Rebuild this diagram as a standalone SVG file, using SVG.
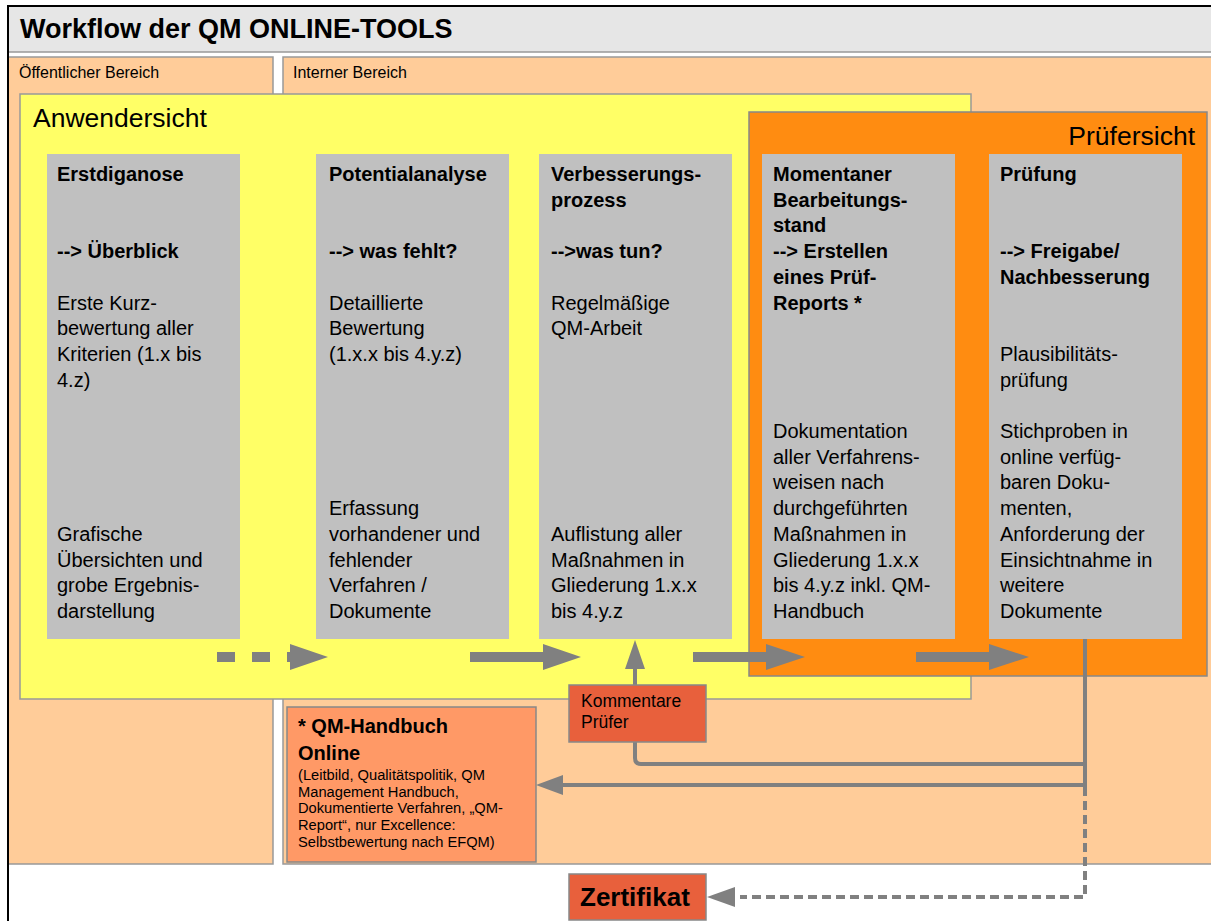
<svg xmlns="http://www.w3.org/2000/svg" width="1211" height="921" viewBox="0 0 1211 921">
<style>
text{font-family:"Liberation Sans",Arial,sans-serif;fill:#000}
.b{font-weight:bold}
.t20{font-size:20px}
.col{fill:#c0c0c0}
.panel{fill:#ffcc99;stroke:#999;stroke-width:1.5}
.ln{fill:none;stroke:#808080;stroke-width:4}
.big{fill:none;stroke:#808080;stroke-width:10}
.ah{fill:#808080}
.red{fill:#e8603c;stroke:#888;stroke-width:1.5}
</style>
<rect x="0" y="0" width="1211" height="921" fill="#fff"/>
<g id="frame">
<rect x="8" y="6" width="1210" height="46" fill="#e6e6e6" stroke="#999" stroke-width="1.5"/>
<text x="20" y="38" class="b" font-size="27">Workflow der QM ONLINE-TOOLS</text>
</g>
<g id="oeffentlich">
<rect x="8" y="57" width="265" height="807" class="panel"/>
<text x="19" y="78" font-size="16">Öffentlicher Bereich</text>
</g>
<g id="intern">
<rect x="283" y="57" width="935" height="807" class="panel"/>
<text x="293" y="78" font-size="16">Interner Bereich</text>
</g>
<g id="anwendersicht">
<rect x="20" y="94" width="951" height="605" fill="#ffff66" stroke="#999" stroke-width="1.5"/>
<text x="33" y="127" font-size="26.5">Anwendersicht</text>
</g>
<g id="pruefersicht">
<rect x="749" y="112" width="458" height="564" fill="#ff8c11" stroke="#888" stroke-width="1.5"/>
<text x="1195" y="145" font-size="26.5" text-anchor="end">Prüfersicht</text>
</g>
<g id="erstdiagnose">
<rect x="47" y="154" width="193" height="485" class="col"/>
<text class="t20"><tspan class="b" x="57" y="181">Erstdiganose</tspan><tspan class="b" x="57" y="258.1">--&gt; Überblick</tspan><tspan x="57" y="309.5">Erste Kurz-</tspan><tspan x="57" y="335.2">bewertung aller</tspan><tspan x="57" y="360.9">Kriterien (1.x bis</tspan><tspan x="57" y="386.6">4.z)</tspan><tspan x="57" y="540.8">Grafische</tspan><tspan x="57" y="566.5">Übersichten und</tspan><tspan x="57" y="592.2">grobe Ergebnis-</tspan><tspan x="57" y="617.9">darstellung</tspan></text>
</g>
<g id="potentialanalyse">
<rect x="316" y="154" width="193" height="485" class="col"/>
<text class="t20"><tspan class="b" x="329" y="181">Potentialanalyse</tspan><tspan class="b" x="329" y="258.1">--&gt; was fehlt?</tspan><tspan x="329" y="309.5">Detaillierte</tspan><tspan x="329" y="335.2">Bewertung</tspan><tspan x="329" y="360.9">(1.x.x bis 4.y.z)</tspan><tspan x="329" y="515.1">Erfassung</tspan><tspan x="329" y="540.8">vorhandener und</tspan><tspan x="329" y="566.5">fehlender</tspan><tspan x="329" y="592.2">Verfahren /</tspan><tspan x="329" y="617.9">Dokumente</tspan></text>
</g>
<g id="verbesserungsprozess">
<rect x="539" y="154" width="193" height="485" class="col"/>
<text class="t20"><tspan class="b" x="551" y="181">Verbesserungs-</tspan><tspan class="b" x="551" y="206.7">prozess</tspan><tspan class="b" x="551" y="258.1">--&gt;was tun?</tspan><tspan x="551" y="309.5">Regelmäßige</tspan><tspan x="551" y="335.2">QM-Arbeit</tspan><tspan x="551" y="540.8">Auflistung aller</tspan><tspan x="551" y="566.5">Maßnahmen in</tspan><tspan x="551" y="592.2">Gliederung 1.x.x</tspan><tspan x="551" y="617.9">bis 4.y.z</tspan></text>
</g>
<g id="bearbeitungsstand">
<rect x="762" y="154" width="193" height="485" class="col"/>
<text class="t20"><tspan class="b" x="773" y="181">Momentaner</tspan><tspan class="b" x="773" y="206.7">Bearbeitungs-</tspan><tspan class="b" x="773" y="232.4">stand</tspan><tspan class="b" x="773" y="258.1">--&gt; Erstellen</tspan><tspan class="b" x="773" y="283.8">eines Prüf-</tspan><tspan class="b" x="773" y="309.5">Reports *</tspan><tspan x="773" y="438">Dokumentation</tspan><tspan x="773" y="463.7">aller Verfahrens-</tspan><tspan x="773" y="489.4">weisen nach</tspan><tspan x="773" y="515.1">durchgeführten</tspan><tspan x="773" y="540.8">Maßnahmen in</tspan><tspan x="773" y="566.5">Gliederung 1.x.x</tspan><tspan x="773" y="592.2">bis 4.y.z inkl. QM-</tspan><tspan x="773" y="617.9">Handbuch</tspan></text>
</g>
<g id="pruefung">
<rect x="989" y="154" width="193" height="485" class="col"/>
<text class="t20"><tspan class="b" x="1000" y="181">Prüfung</tspan><tspan class="b" x="1000" y="258.1">--&gt; Freigabe/</tspan><tspan class="b" x="1000" y="283.8">Nachbesserung</tspan><tspan x="1000" y="360.9">Plausibilitäts-</tspan><tspan x="1000" y="386.6">prüfung</tspan><tspan x="1000" y="438">Stichproben in</tspan><tspan x="1000" y="463.7">online verfüg-</tspan><tspan x="1000" y="489.4">baren Doku-</tspan><tspan x="1000" y="515.1">menten,</tspan><tspan x="1000" y="540.8">Anforderung der</tspan><tspan x="1000" y="566.5">Einsichtnahme in</tspan><tspan x="1000" y="592.2">weitere</tspan><tspan x="1000" y="617.9">Dokumente</tspan></text>
</g>
<g id="connectors">
<line x1="217" y1="657" x2="296" y2="657" class="big" stroke-dasharray="18 17"/>
<polygon points="290,644 328,657 290,670" class="ah"/>
<line x1="470" y1="657" x2="546" y2="657" class="big"/>
<polygon points="543,644 581,657 543,670" class="ah"/>
<line x1="693" y1="657" x2="769" y2="657" class="big"/>
<polygon points="766,644 805,657 766,670" class="ah"/>
<line x1="916" y1="657" x2="992" y2="657" class="big"/>
<polygon points="989,644 1029,657 989,670" class="ah"/>
<path d="M1085,639 V787" class="ln"/>
<path d="M1085,764 H641 Q635,764 635,758 V665" class="ln"/>
<polygon points="625,669 635,640 645,669" class="ah"/>
<path d="M1085,785 H560" class="ln"/>
<polygon points="563,775 536,785 563,795" class="ah"/>
<path d="M1085,787 V897 H740" class="ln" stroke-dasharray="9 5"/>
<polygon points="735,887 707,897 735,907" class="ah"/>
</g>
<g id="kommentare">
<rect x="569" y="685" width="137" height="57" class="red"/>
<text font-size="17.5"><tspan x="581" y="707">Kommentare</tspan><tspan x="581" y="728">Prüfer</tspan></text>
</g>
<g id="handbuch">
<rect x="287" y="707" width="249" height="155" fill="#ff9966" stroke="#888" stroke-width="1.5"/>
<text class="b" font-size="20"><tspan x="298" y="733">* QM-Handbuch</tspan><tspan x="298" y="760">Online</tspan></text>
<text font-size="14.7"><tspan x="298" y="780">(Leitbild, Qualitätspolitik, QM</tspan><tspan x="298" y="796.7">Management Handbuch,</tspan><tspan x="298" y="813.4">Dokumentierte Verfahren, „QM-</tspan><tspan x="298" y="830.1">Report“, nur Excellence:</tspan><tspan x="298" y="846.8">Selbstbewertung nach EFQM)</tspan></text>
</g>
<g id="zertifikat">
<rect x="569" y="874" width="137" height="46" class="red"/>
<text x="580" y="906" class="b" font-size="26">Zertifikat</text>
</g>
<rect x="8" y="6" width="1210" height="920" fill="none" stroke="#000" stroke-width="2"/>
</svg>
